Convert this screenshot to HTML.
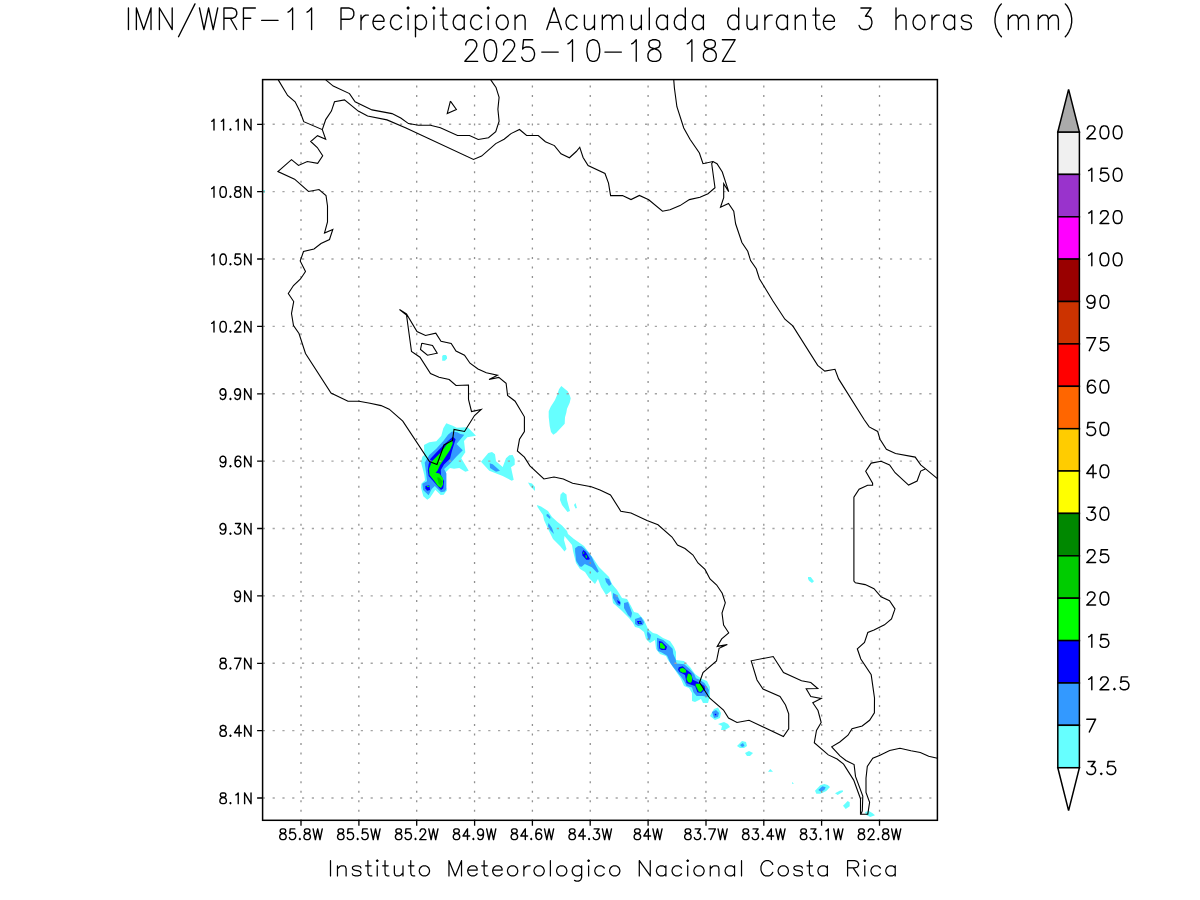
<!DOCTYPE html>
<html><head><meta charset="utf-8"><style>
html,body{margin:0;padding:0;background:#fff;width:1200px;height:900px;overflow:hidden}
svg{display:block}
body{font-family:"Liberation Sans",sans-serif}
</style></head><body>
<svg width="1200" height="900" viewBox="0 0 1200 900">
<polygon points="446.3,423.3 452.7,425.7 456.7,427.7 466,427.3 468.7,428.3 476,435.7 467.3,437.3 464,441 465.3,452.3 461.3,458.3 468.7,470.7 465.3,471.7 459.3,468 454,468.7 450,468 446,472 446,487.7 447,490.3 443.7,494.7 440.7,495 435.3,489.7 430,497.7 427.3,499.7 423.3,496.3 421,487.7 421.3,483.7 425,480.3 424.3,475 421,462.3 422.3,456.7 424.3,455 424,445 429.3,442.3 436.3,441.3 441.3,435.7 443.3,428.3" fill="#66ffff"/>
<polygon points="481,461.7 488.3,453 492,452 495,454.3 496,461.3 502.7,467 506,458.3 509.3,455.3 512.7,455 514.7,459.3 514.7,464.7 511,467.3 512,472 513.7,479.7 511.7,480.7 502.7,476 489.3,470.7" fill="#66ffff"/>
<polygon points="489.7,463.3 492.7,464.3 500,470.7 496,471.7 490,468" fill="#3399ff"/>
<polygon points="442.2,356.1 443.3,355 445.8,355 447,356.4 447,358.6 445,360.8 442.2,360.8" fill="#66ffff"/>
<polygon points="561.3,386 567.7,391.3 569.7,395.3 570.7,398.3 569.7,402.7 567,408.7 566.3,412.7 565,417.3 564.7,423.7 556.3,432.7 553.3,434.7 551,432 549.7,426 548.7,417 548.7,411.3 550.7,406.7 555,400 557,395.3 559,389.3" fill="#66ffff"/>
<polygon points="528,482.5 532,483.5 535,487 535,491 530,486" fill="#66ffff"/>
<polygon points="563,492 566.5,494.5 567,500 570,511 567.5,512 562,505 560,500 560.5,494.5" fill="#66ffff"/>
<polygon points="575.5,503 577,508 575.5,508.5 574,505" fill="#66ffff"/>
<polygon points="537,505 541,506.5 548,511 552,517 557.5,522 562,525.5 567,531 568,534 574,539 584,546 593,558 599,567 605,573 609,577 612,584 617,590 622,598 627,599 631,606 634,612 638,613 644,620 648,629 653,633 657,634 663,638 670,641 674,647 676,652 676,660 684,661 687,664 690,667 695,674 702,679 707,681 710,687 710,696 708,703 703,703 701,699 695,702 692,701 692,693 689,688 684,686 681,679 673,667 668,660 666,656 660,654 656,649 655,640 650,643 646,639 644,632 639,628 635,627 633,623 629,618 621,610 613,603 611,591 606,595 601,587 598,579 595,584 589,578 585,572 580,569 576,563 573,551 572,545 564.5,536 564,540 566.5,549 564.5,551.5 560,546 553,539 549,531 544,520 543,515 537.5,507" fill="#66ffff"/>
<polygon points="546.5,514.5 548,514 550.5,517 550,519 546.5,516" fill="#3399ff"/>
<polygon points="548.5,523 552,528 554,534 550,530 548,526" fill="#3399ff"/>
<polygon points="605,578 609,579 611.5,584 609,586 606,582" fill="#3399ff"/>
<polygon points="613,593 617,595 621,603 620,606 617,605 613,598" fill="#3399ff"/>
<polygon points="624,603 628,602 632,613 631,618 628,615 624,608" fill="#3399ff"/>
<polygon points="635,619 641,617 644,622 643,625 638,626 635,624" fill="#3399ff"/>
<polygon points="647.5,631 651,635 650,640 648,639 647,634" fill="#3399ff"/>
<polygon points="617,600 620,602 620,604 618,603" fill="#0000ff"/>
<polygon points="637,621 641,621 642,624 638,624" fill="#0000ff"/>
<polygon points="639,622 640.5,622 640.5,623.3 639,623.3" fill="#00ff00"/>
<polygon points="451.9,431.6 457.3,432.3 460.4,433.9 464.3,434.7 456.5,444 462.8,450.2 456.5,456.4 449.5,464.2 444.1,468.9 446.4,473.5 446.4,489.1 444.9,491.4 441,492.2 434.8,486 431.7,489.1 428.6,495.3 423.1,489.9 422.3,483.7 427,481.3 426.2,473.5 424.7,462.7 429.3,454.9 436.3,448.7 443.3,440.9 448,434.7" fill="#3399ff"/>
<polygon points="452.8,436.8 455.6,439.2 452,450.8 450,458.8 444,464.4 440.8,470 441,475.1 444.1,481.3 443.3,488.3 441,489.9 434.8,482.9 428.6,475.9 427.8,470.4 428.6,464.2 430.4,458.8 438,450.8 446,442.8" fill="#0000ff"/>
<polygon points="425.4,486 429.3,485.2 430.1,489.9 427,490.7 425.4,488.3" fill="#0000ff"/>
<polygon points="452,440 452.8,443.2 450,450 445.6,456.8 440,465.2 437.6,470.4 435.6,472.8 439.4,473.5 443,478.2 443,484.4 441,488 437.9,486 434,480.5 429.6,475.1 429,468.9 432,461.2 441.2,452 448.8,441.6" fill="#00ff00"/>
<polygon points="437.1,477.4 439.4,477.4 442.6,481.3 441,486 438.7,483.7" fill="#00cc00"/>
<polygon points="427,486 429,486 429,486.9 427,486.9" fill="#00ff00"/>
<polygon points="575.1,548.2 578.2,546 581.7,546.2 584,548.2 588.7,552.8 591.8,557.1 594.1,562.2 598.8,571.5 597.2,572.7 591.8,567.2 584.8,564.1 581.7,566.8 579.7,566.5 576.2,561 575.1,551.7" fill="#3399ff"/>
<polygon points="583.2,550.1 585.6,551.7 589.8,558.7 589.1,559.8 586.3,559.8 582.5,555.6 582.1,552.5" fill="#0000ff"/>
<polygon points="583.2,552.1 584.1,552.1 584.1,553.7 583.2,553.7" fill="#00ff00"/>
<polygon points="585.2,555.2 586.6,555.2 587.1,557.9 586,557.9" fill="#00ff00"/>
<polygon points="657,637.8 663.2,640.1 667.9,644 672.6,648.7 673.3,654.1 675.7,659.5 676.4,663.4 684.2,664.2 689.7,668.9 694.3,674.3 695.9,678.2 699.8,679.8 704.4,682.9 707.5,687.5 709,690 708,697 702.9,696.1 696.7,696.1 693.5,692.2 692,687.5 686.5,686 684.2,681.3 681.1,676.7 673.3,667.3 670.2,662.7 667.1,655.7 661.7,652.6 657.8,651 657,645.6" fill="#3399ff"/>
<polygon points="658.9,641 662,641.8 667,646.8 666,650 661.5,650 659.3,648.5" fill="#0000ff"/>
<polygon points="659.8,643 661.8,642.8 665.3,647 664.3,649 660.2,648.3" fill="#00ff00"/>
<polygon points="678.8,667.3 682.7,666.2 686.5,669.7 691.2,673.2 692.8,679.8 699.8,682.9 704.4,686 705.2,689.1 701.3,693 697.4,692.2 695.1,686 690.4,684.4 686.5,682.9 685,675.1 679.5,672 678,669.7" fill="#0000ff"/>
<polygon points="679.5,668.9 682.7,667.7 685.8,669.7 686.2,672.4 682.7,672.8 680,671.2" fill="#00ff00"/>
<polygon points="688.1,673.5 690.4,674.3 692,676.7 692,681.3 690.4,682.9 688.1,682.1 686.5,679 687.3,675.9" fill="#00ff00"/>
<polygon points="695.9,683.7 699.8,683.7 702.9,686.8 702.9,689.9 700.5,692.2 698.6,691.4 696.7,687.5 695.5,685.2" fill="#00ff00"/>
<polygon points="710,716 714,709 718,707.5 721,713 720,718 715,720" fill="#66ffff"/>
<polygon points="712,712 716,710 719,713 718,717 714,718" fill="#3399ff"/>
<polygon points="714.8,713.8 716.3,713.8 716.3,715.3 714.8,715.3" fill="#0000ff"/>
<polygon points="718,724 724,722 728,724 730,727 725,730 721,730 722,726" fill="#66ffff"/>
<polygon points="737,746 742,741 746,742 747,746 744,748 740,748" fill="#66ffff"/>
<polygon points="740,745 743,743 744.5,746 742,747" fill="#3399ff"/>
<polygon points="745,753 749,751 753,753 750,756 747,756" fill="#66ffff"/>
<polygon points="768,771.7 770.3,769 773,771.7" fill="#66ffff"/>
<polygon points="792,782 794,783.7 792,783.7" fill="#66ffff"/>
<polygon points="815,790.7 820.3,785.3 824.3,784 827.7,785 830,787 826.3,791 820.3,793.7 816.3,793.7" fill="#66ffff"/>
<polygon points="818.3,790 822.3,786.3 825.7,787.3 824.3,790 821,791.7" fill="#3399ff"/>
<polygon points="835,793.3 839.7,790.7 842.7,790.3 843,791.7 839.7,793.7 837.7,795" fill="#66ffff"/>
<polygon points="843,805.7 847.7,801 849.7,802.3 849.7,806.3 845.7,809" fill="#66ffff"/>
<polygon points="865,812 869,811 872.3,813 875,815.3 870.3,817 866.3,815" fill="#66ffff"/>
<polygon points="808,577 810.7,577 814,581.3 812,583 809,580.7 808,578.7" fill="#66ffff"/>
<rect x="263.4" y="190" width="1.5" height="3" fill="#66ffff"/>
<path d="M262.8 124.30H937.4M262.8 191.67H937.4M262.8 259.04H937.4M262.8 326.41H937.4M262.8 393.78H937.4M262.8 461.15H937.4M262.8 528.52H937.4M262.8 595.89H937.4M262.8 663.26H937.4M262.8 730.63H937.4M262.8 798.00H937.4" stroke="#a4a4a4" stroke-width="1.4" stroke-dasharray="2.2 7.6" fill="none"/>
<path d="M301.00 821.3V79.6M358.85 821.3V79.6M416.70 821.3V79.6M474.55 821.3V79.6M532.40 821.3V79.6M590.25 821.3V79.6M648.10 821.3V79.6M705.95 821.3V79.6M763.80 821.3V79.6M821.65 821.3V79.6M879.50 821.3V79.6" stroke="#909090" stroke-width="1.3" stroke-dasharray="2 7.53" fill="none"/>
<polyline points="278.25,79.9 287.6,95.5 295.1,101.75 300.1,111.75 303.75,121.7 322.3,129.6 325.7,139.3 317.5,135.7 310.7,141.5 317.3,147.5 322.7,155.7 317.7,163.3 307.3,161.5 298.5,165.4 291.5,159.6 277.9,171.5 294.6,179.2 308.5,191.5 319,189.5 326,195.5 327.5,206 327.5,222 324.5,233 332.8,229.5 329.5,239.5 321,243.5 314,249 303.5,251.5 300.2,261 305.5,271.5 300.5,279 293.5,285.5 288.3,293.5 293.7,301.5 291.5,313.5 293.5,325.5 299,333.5 305.5,353.5 331,393 348,401.2 359,401.2 370,403.2 381.1,405.6 389.2,409.2 402.8,421.1 429.5,461.5 437,464.5 444,445 452.5,440.5 454,429.5 464.5,431.5 474.5,415.5 481.2,409.5 471.5,411.5 468.5,399.5 468.5,385 456,385.5 449.2,379.5 439,377.2 430.5,373.5 420,357.2 411.5,351.5 406.5,315 399.5,309.5 406.5,314 417,331.5 425.5,335.5 435.8,333.2 441,341.2 451.2,343.5 456,351 464.5,355.2 470,363.2 478,369 486.3,372.8 497.5,375.2 489,379.5 498.8,377.4 506.1,383.3 507.6,395.5 515.1,401.2 524.4,416.8 524.4,431.5 519.5,439.3 517.4,451 524.4,457.2 529.9,465.8 543.9,479 554,477 563.3,479 572.6,483.2 591.3,486.7 600,490 610.5,495 620.8,511.2 631,513 647,520.5 658,524.8 672,537 677.5,545 685,548.5 693,555 698,563 705,569.4 710,578.9 716.7,585 722.2,593.3 725.3,602.8 722,613.1 723.6,625 728.7,632.8 721.7,638.9 717.2,646.4 727.3,644.6 719.1,648.3 716.5,661 703,672.5 699.5,682.5 709.5,698 723.5,710 728.5,718 737,722.5 749,720.2 783.4,736.5 788.7,728.9 788.7,713.8 785.5,705 780,696.5 763,689 757,680 751.2,660.8 773.2,656.5 783.5,672.5 801.5,680.8 810.8,682.5 817.8,688.5 806.2,688.8 810.8,696.5 821.2,698.5 812.8,702.8 818,710.5 821.2,722.5 816.5,730.5 814.3,742.7 828.3,754.9 837.1,759 843.6,764.1 853.7,780.1 860.5,798.7 860.5,814.2 867.8,814.2 869.6,802.4 866,792.4 866,778.3 867.3,766.4 872.8,758.2 880,755.3 889.7,750.5 900,748.3 911,750.8 920.3,752.5 928.7,756.3 937.4,758.3" fill="none" stroke="#000" stroke-width="1.1" stroke-linejoin="miter"/>
<polyline points="322.3,129.6 325.7,119.6 331.4,111.1 334.5,101.75 344.5,99.9 358.25,111.1 367.6,116.1 387,119.9 406,128 473.5,159.5 481.6,156.1 495.75,143.6 504.1,139.25 511,133.6 519.5,129.5 526.6,135.5 538.25,135.5 545.4,141.75 554.4,145.6 561,153.75 569.4,157.75 576.25,151.5 579.75,147.25 583.1,157.5 588.1,165.6 605,173.5 608.5,183.1 610.6,195.6 622.5,195.6 631,199.6 639.4,195.4 648.75,199.75 662.5,211.25 670,209.75 680,205.6 689.4,199.6 700,197.3 708,193.7 715,187.7 711.7,163.7 713,161.5" fill="none" stroke="#000" stroke-width="1.1" stroke-linejoin="miter"/>
<polyline points="325.75,79.9 333.25,86.1 349.5,93.6 355.1,101.75 372,109.9 392,113.6 400.75,118 408.5,123.6 418.5,125.25 430.4,125.25 440.4,127.75 457.5,135.5 469.5,135.5 478.25,139.5 488.5,137.75 495.75,131.75 499.1,121.1 497.9,109.25 499.1,97.4 496,87.4 490.75,79.9" fill="none" stroke="#000" stroke-width="1.1" stroke-linejoin="miter"/>
<polyline points="450.4,101.1 456.4,109.5 447.25,113.6 450.4,101.1" fill="none" stroke="#000" stroke-width="1.1" stroke-linejoin="miter"/>
<polyline points="673.75,79.9 674.4,88 676.9,106.75 683.75,128 690,139.25 699.4,153 703,163.7 713,161.5 717,163.7 722.3,172 728.7,191.7 723.7,183.7 723.7,197.7 720.5,207.3 728.5,203.4 733.75,211.25 735.6,223.75 741.9,242.5 747.75,251.25 750.6,260.6 756.25,268.75 759.4,278.75 772.8,300.7 784.9,319.2 792.8,325.9 817.7,365.4 824.8,371.1 835,369.3 838.6,378.9 864.4,420 869.2,426.9 877.7,431.5 880,439.2 886.4,449.3 895.5,453.5 915.2,457.1 920.7,464.9 925.3,468.6 937.4,478.7" fill="none" stroke="#000" stroke-width="1.1" stroke-linejoin="miter"/>
<polyline points="925.3,469 920.7,471.1 917.1,481 908.6,485.1 895.1,472.7 889.6,464.9 881.1,461.2 871.2,463.1 865.7,471.3 872.6,483.1 872.6,485.3 867.6,485.3 859.1,489.2 853.9,497.1 853.9,581 855.4,582.8 865.2,584.6 874,588.7 881,596.8 889.5,600.7 895,608.9 891.5,619 884.5,624.8 874,630 867.8,632.5 864.5,642.5 857.3,648.8 860.8,659 871.2,674.8 874.5,698 874.4,712.9 869.6,720.3 862.2,726 852,728.7 848,735.2 839.8,742 831.7,746.8 840,755.9 845.9,760.5 854.1,764.6 855.5,776.4 862.8,796 862.3,811 861,814" fill="none" stroke="#000" stroke-width="1.1" stroke-linejoin="miter"/>
<polyline points="421.8,343.2 432.5,345.5 437.2,353.2 427.5,355.2 420.5,349.5 421.8,343.2" fill="none" stroke="#000" stroke-width="1.1" stroke-linejoin="miter"/>
<rect x="262.6" y="79.6" width="674.8" height="740.7" fill="none" stroke="#000" stroke-width="1.5"/>
<path d="M301.0 820.3V825.8M262.6 124.3H257.1M358.9 820.3V825.8M262.6 191.7H257.1M416.7 820.3V825.8M262.6 259.0H257.1M474.6 820.3V825.8M262.6 326.4H257.1M532.4 820.3V825.8M262.6 393.8H257.1M590.2 820.3V825.8M262.6 461.2H257.1M648.1 820.3V825.8M262.6 528.5H257.1M706.0 820.3V825.8M262.6 595.9H257.1M763.8 820.3V825.8M262.6 663.3H257.1M821.6 820.3V825.8M262.6 730.6H257.1M879.5 820.3V825.8M262.6 798.0H257.1" stroke="#000" stroke-width="1.3" fill="none"/>
<path d="M211.71 121.28 212.63 120.77 214.00 119.24 214.00 129.95M221.31 121.28 222.22 120.77 223.59 119.24 223.59 129.95M230.45 128.93 229.99 129.44 230.45 129.95 230.91 129.44 230.45 128.93M235.93 121.28 236.85 120.77 238.22 119.24 238.22 129.95M244.62 119.24 244.62 129.95M244.62 119.24 251.02 129.95M251.02 119.24 251.02 129.95M211.71 188.65 212.63 188.14 214.00 186.61 214.00 197.32M222.68 186.61 221.31 187.12 220.40 188.65 219.94 191.20 219.94 192.73 220.40 195.28 221.31 196.81 222.68 197.32 223.59 197.32 224.97 196.81 225.88 195.28 226.34 192.73 226.34 191.20 225.88 188.65 224.97 187.12 223.59 186.61 222.68 186.61M230.45 196.30 229.99 196.81 230.45 197.32 230.91 196.81 230.45 196.30M236.85 186.61 235.48 187.12 235.02 188.14 235.02 189.16 235.48 190.18 236.39 190.69 238.22 191.20 239.59 191.71 240.50 192.73 240.96 193.75 240.96 195.28 240.50 196.30 240.05 196.81 238.68 197.32 236.85 197.32 235.48 196.81 235.02 196.30 234.56 195.28 234.56 193.75 235.02 192.73 235.93 191.71 237.31 191.20 239.13 190.69 240.05 190.18 240.50 189.16 240.50 188.14 240.05 187.12 238.68 186.61 236.85 186.61M244.62 186.61 244.62 197.32M244.62 186.61 251.02 197.32M251.02 186.61 251.02 197.32M211.71 256.02 212.63 255.51 214.00 253.98 214.00 264.69M222.68 253.98 221.31 254.49 220.40 256.02 219.94 258.57 219.94 260.10 220.40 262.65 221.31 264.18 222.68 264.69 223.59 264.69 224.97 264.18 225.88 262.65 226.34 260.10 226.34 258.57 225.88 256.02 224.97 254.49 223.59 253.98 222.68 253.98M230.45 263.67 229.99 264.18 230.45 264.69 230.91 264.18 230.45 263.67M240.05 253.98 235.48 253.98 235.02 258.57 235.48 258.06 236.85 257.55 238.22 257.55 239.59 258.06 240.50 259.08 240.96 260.61 240.96 261.63 240.50 263.16 239.59 264.18 238.22 264.69 236.85 264.69 235.48 264.18 235.02 263.67 234.56 262.65M244.62 253.98 244.62 264.69M244.62 253.98 251.02 264.69M251.02 253.98 251.02 264.69M211.71 323.39 212.63 322.88 214.00 321.35 214.00 332.06M222.68 321.35 221.31 321.86 220.40 323.39 219.94 325.94 219.94 327.47 220.40 330.02 221.31 331.55 222.68 332.06 223.59 332.06 224.97 331.55 225.88 330.02 226.34 327.47 226.34 325.94 225.88 323.39 224.97 321.86 223.59 321.35 222.68 321.35M230.45 331.04 229.99 331.55 230.45 332.06 230.91 331.55 230.45 331.04M235.02 323.90 235.02 323.39 235.48 322.37 235.93 321.86 236.85 321.35 238.68 321.35 239.59 321.86 240.05 322.37 240.50 323.39 240.50 324.41 240.05 325.43 239.13 326.96 234.56 332.06 240.96 332.06M244.62 321.35 244.62 332.06M244.62 321.35 251.02 332.06M251.02 321.35 251.02 332.06M225.88 392.29 225.42 393.82 224.51 394.84 223.14 395.35 222.68 395.35 221.31 394.84 220.40 393.82 219.94 392.29 219.94 391.78 220.40 390.25 221.31 389.23 222.68 388.72 223.14 388.72 224.51 389.23 225.42 390.25 225.88 392.29 225.88 394.84 225.42 397.39 224.51 398.92 223.14 399.43 222.22 399.43 220.85 398.92 220.40 397.90M230.45 398.41 229.99 398.92 230.45 399.43 230.91 398.92 230.45 398.41M240.50 392.29 240.05 393.82 239.13 394.84 237.76 395.35 237.31 395.35 235.93 394.84 235.02 393.82 234.56 392.29 234.56 391.78 235.02 390.25 235.93 389.23 237.31 388.72 237.76 388.72 239.13 389.23 240.05 390.25 240.50 392.29 240.50 394.84 240.05 397.39 239.13 398.92 237.76 399.43 236.85 399.43 235.48 398.92 235.02 397.90M244.62 388.72 244.62 399.43M244.62 388.72 251.02 399.43M251.02 388.72 251.02 399.43M225.88 459.66 225.42 461.19 224.51 462.21 223.14 462.72 222.68 462.72 221.31 462.21 220.40 461.19 219.94 459.66 219.94 459.15 220.40 457.62 221.31 456.60 222.68 456.09 223.14 456.09 224.51 456.60 225.42 457.62 225.88 459.66 225.88 462.21 225.42 464.76 224.51 466.29 223.14 466.80 222.22 466.80 220.85 466.29 220.40 465.27M230.45 465.78 229.99 466.29 230.45 466.80 230.91 466.29 230.45 465.78M240.50 457.62 240.05 456.60 238.68 456.09 237.76 456.09 236.39 456.60 235.48 458.13 235.02 460.68 235.02 463.23 235.48 465.27 236.39 466.29 237.76 466.80 238.22 466.80 239.59 466.29 240.50 465.27 240.96 463.74 240.96 463.23 240.50 461.70 239.59 460.68 238.22 460.17 237.76 460.17 236.39 460.68 235.48 461.70 235.02 463.23M244.62 456.09 244.62 466.80M244.62 456.09 251.02 466.80M251.02 456.09 251.02 466.80M225.88 527.03 225.42 528.56 224.51 529.58 223.14 530.09 222.68 530.09 221.31 529.58 220.40 528.56 219.94 527.03 219.94 526.52 220.40 524.99 221.31 523.97 222.68 523.46 223.14 523.46 224.51 523.97 225.42 524.99 225.88 527.03 225.88 529.58 225.42 532.13 224.51 533.66 223.14 534.17 222.22 534.17 220.85 533.66 220.40 532.64M230.45 533.15 229.99 533.66 230.45 534.17 230.91 533.66 230.45 533.15M235.48 523.46 240.50 523.46 237.76 527.54 239.13 527.54 240.05 528.05 240.50 528.56 240.96 530.09 240.96 531.11 240.50 532.64 239.59 533.66 238.22 534.17 236.85 534.17 235.48 533.66 235.02 533.15 234.56 532.13M244.62 523.46 244.62 534.17M244.62 523.46 251.02 534.17M251.02 523.46 251.02 534.17M240.50 594.40 240.05 595.93 239.13 596.95 237.76 597.46 237.31 597.46 235.93 596.95 235.02 595.93 234.56 594.40 234.56 593.89 235.02 592.36 235.93 591.34 237.31 590.83 237.76 590.83 239.13 591.34 240.05 592.36 240.50 594.40 240.50 596.95 240.05 599.50 239.13 601.03 237.76 601.54 236.85 601.54 235.48 601.03 235.02 600.01M244.62 590.83 244.62 601.54M244.62 590.83 251.02 601.54M251.02 590.83 251.02 601.54M222.22 658.20 220.85 658.71 220.40 659.73 220.40 660.75 220.85 661.77 221.77 662.28 223.59 662.79 224.97 663.30 225.88 664.32 226.34 665.34 226.34 666.87 225.88 667.89 225.42 668.40 224.05 668.91 222.22 668.91 220.85 668.40 220.40 667.89 219.94 666.87 219.94 665.34 220.40 664.32 221.31 663.30 222.68 662.79 224.51 662.28 225.42 661.77 225.88 660.75 225.88 659.73 225.42 658.71 224.05 658.20 222.22 658.20M230.45 667.89 229.99 668.40 230.45 668.91 230.91 668.40 230.45 667.89M240.96 658.20 236.39 668.91M234.56 658.20 240.96 658.20M244.62 658.20 244.62 668.91M244.62 658.20 251.02 668.91M251.02 658.20 251.02 668.91M222.22 725.57 220.85 726.08 220.40 727.10 220.40 728.12 220.85 729.14 221.77 729.65 223.59 730.16 224.97 730.67 225.88 731.69 226.34 732.71 226.34 734.24 225.88 735.26 225.42 735.77 224.05 736.28 222.22 736.28 220.85 735.77 220.40 735.26 219.94 734.24 219.94 732.71 220.40 731.69 221.31 730.67 222.68 730.16 224.51 729.65 225.42 729.14 225.88 728.12 225.88 727.10 225.42 726.08 224.05 725.57 222.22 725.57M230.45 735.26 229.99 735.77 230.45 736.28 230.91 735.77 230.45 735.26M239.13 725.57 234.56 732.71 241.42 732.71M239.13 725.57 239.13 736.28M244.62 725.57 244.62 736.28M244.62 725.57 251.02 736.28M251.02 725.57 251.02 736.28M222.22 792.94 220.85 793.45 220.40 794.47 220.40 795.49 220.85 796.51 221.77 797.02 223.59 797.53 224.97 798.04 225.88 799.06 226.34 800.08 226.34 801.61 225.88 802.63 225.42 803.14 224.05 803.65 222.22 803.65 220.85 803.14 220.40 802.63 219.94 801.61 219.94 800.08 220.40 799.06 221.31 798.04 222.68 797.53 224.51 797.02 225.42 796.51 225.88 795.49 225.88 794.47 225.42 793.45 224.05 792.94 222.22 792.94M230.45 802.63 229.99 803.14 230.45 803.65 230.91 803.14 230.45 802.63M235.93 794.98 236.85 794.47 238.22 792.94 238.22 803.65M244.62 792.94 244.62 803.65M244.62 792.94 251.02 803.65M251.02 792.94 251.02 803.65M282.03 828.89 280.66 829.40 280.21 830.42 280.21 831.44 280.66 832.46 281.58 832.97 283.41 833.48 284.78 833.99 285.69 835.01 286.15 836.03 286.15 837.56 285.69 838.58 285.23 839.09 283.86 839.60 282.03 839.60 280.66 839.09 280.21 838.58 279.75 837.56 279.75 836.03 280.21 835.01 281.12 833.99 282.49 833.48 284.32 832.97 285.23 832.46 285.69 831.44 285.69 830.42 285.23 829.40 283.86 828.89 282.03 828.89M294.83 828.89 290.26 828.89 289.80 833.48 290.26 832.97 291.63 832.46 293.00 832.46 294.37 832.97 295.29 833.99 295.74 835.52 295.74 836.54 295.29 838.07 294.37 839.09 293.00 839.60 291.63 839.60 290.26 839.09 289.80 838.58 289.35 837.56M299.86 838.58 299.40 839.09 299.86 839.60 300.31 839.09 299.86 838.58M306.26 828.89 304.88 829.40 304.43 830.42 304.43 831.44 304.88 832.46 305.80 832.97 307.63 833.48 309.00 833.99 309.91 835.01 310.37 836.03 310.37 837.56 309.91 838.58 309.45 839.09 308.08 839.60 306.26 839.60 304.88 839.09 304.43 838.58 303.97 837.56 303.97 836.03 304.43 835.01 305.34 833.99 306.71 833.48 308.54 832.97 309.45 832.46 309.91 831.44 309.91 830.42 309.45 829.40 308.08 828.89 306.26 828.89M313.11 828.89 315.40 839.60M317.68 828.89 315.40 839.60M317.68 828.89 319.97 839.60M322.25 828.89 319.97 839.60M339.88 828.89 338.51 829.40 338.06 830.42 338.06 831.44 338.51 832.46 339.43 832.97 341.26 833.48 342.63 833.99 343.54 835.01 344.00 836.03 344.00 837.56 343.54 838.58 343.08 839.09 341.71 839.60 339.88 839.60 338.51 839.09 338.06 838.58 337.60 837.56 337.60 836.03 338.06 835.01 338.97 833.99 340.34 833.48 342.17 832.97 343.08 832.46 343.54 831.44 343.54 830.42 343.08 829.40 341.71 828.89 339.88 828.89M352.68 828.89 348.11 828.89 347.65 833.48 348.11 832.97 349.48 832.46 350.85 832.46 352.22 832.97 353.14 833.99 353.59 835.52 353.59 836.54 353.14 838.07 352.22 839.09 350.85 839.60 349.48 839.60 348.11 839.09 347.65 838.58 347.20 837.56M357.71 838.58 357.25 839.09 357.71 839.60 358.16 839.09 357.71 838.58M367.30 828.89 362.73 828.89 362.28 833.48 362.73 832.97 364.11 832.46 365.48 832.46 366.85 832.97 367.76 833.99 368.22 835.52 368.22 836.54 367.76 838.07 366.85 839.09 365.48 839.60 364.11 839.60 362.73 839.09 362.28 838.58 361.82 837.56M370.96 828.89 373.25 839.60M375.53 828.89 373.25 839.60M375.53 828.89 377.82 839.60M380.10 828.89 377.82 839.60M397.73 828.89 396.36 829.40 395.91 830.42 395.91 831.44 396.36 832.46 397.28 832.97 399.11 833.48 400.48 833.99 401.39 835.01 401.85 836.03 401.85 837.56 401.39 838.58 400.93 839.09 399.56 839.60 397.73 839.60 396.36 839.09 395.91 838.58 395.45 837.56 395.45 836.03 395.91 835.01 396.82 833.99 398.19 833.48 400.02 832.97 400.93 832.46 401.39 831.44 401.39 830.42 400.93 829.40 399.56 828.89 397.73 828.89M410.53 828.89 405.96 828.89 405.50 833.48 405.96 832.97 407.33 832.46 408.70 832.46 410.07 832.97 410.99 833.99 411.44 835.52 411.44 836.54 410.99 838.07 410.07 839.09 408.70 839.60 407.33 839.60 405.96 839.09 405.50 838.58 405.05 837.56M415.56 838.58 415.10 839.09 415.56 839.60 416.01 839.09 415.56 838.58M420.13 831.44 420.13 830.93 420.58 829.91 421.04 829.40 421.96 828.89 423.78 828.89 424.70 829.40 425.15 829.91 425.61 830.93 425.61 831.95 425.15 832.97 424.24 834.50 419.67 839.60 426.07 839.60M428.81 828.89 431.10 839.60M433.38 828.89 431.10 839.60M433.38 828.89 435.67 839.60M437.95 828.89 435.67 839.60M455.58 828.89 454.21 829.40 453.76 830.42 453.76 831.44 454.21 832.46 455.13 832.97 456.96 833.48 458.33 833.99 459.24 835.01 459.70 836.03 459.70 837.56 459.24 838.58 458.78 839.09 457.41 839.60 455.58 839.60 454.21 839.09 453.76 838.58 453.30 837.56 453.30 836.03 453.76 835.01 454.67 833.99 456.04 833.48 457.87 832.97 458.78 832.46 459.24 831.44 459.24 830.42 458.78 829.40 457.41 828.89 455.58 828.89M467.47 828.89 462.90 836.03 469.75 836.03M467.47 828.89 467.47 839.60M473.41 838.58 472.95 839.09 473.41 839.60 473.86 839.09 473.41 838.58M483.46 832.46 483.00 833.99 482.09 835.01 480.72 835.52 480.26 835.52 478.89 835.01 477.98 833.99 477.52 832.46 477.52 831.95 477.98 830.42 478.89 829.40 480.26 828.89 480.72 828.89 482.09 829.40 483.00 830.42 483.46 832.46 483.46 835.01 483.00 837.56 482.09 839.09 480.72 839.60 479.81 839.60 478.43 839.09 477.98 838.07M486.66 828.89 488.95 839.60M491.23 828.89 488.95 839.60M491.23 828.89 493.52 839.60M495.80 828.89 493.52 839.60M513.43 828.89 512.06 829.40 511.61 830.42 511.61 831.44 512.06 832.46 512.98 832.97 514.81 833.48 516.18 833.99 517.09 835.01 517.55 836.03 517.55 837.56 517.09 838.58 516.63 839.09 515.26 839.60 513.43 839.60 512.06 839.09 511.61 838.58 511.15 837.56 511.15 836.03 511.61 835.01 512.52 833.99 513.89 833.48 515.72 832.97 516.63 832.46 517.09 831.44 517.09 830.42 516.63 829.40 515.26 828.89 513.43 828.89M525.32 828.89 520.75 836.03 527.60 836.03M525.32 828.89 525.32 839.60M531.26 838.58 530.80 839.09 531.26 839.60 531.71 839.09 531.26 838.58M541.31 830.42 540.85 829.40 539.48 828.89 538.57 828.89 537.20 829.40 536.28 830.93 535.83 833.48 535.83 836.03 536.28 838.07 537.20 839.09 538.57 839.60 539.03 839.60 540.40 839.09 541.31 838.07 541.77 836.54 541.77 836.03 541.31 834.50 540.40 833.48 539.03 832.97 538.57 832.97 537.20 833.48 536.28 834.50 535.83 836.03M544.51 828.89 546.80 839.60M549.08 828.89 546.80 839.60M549.08 828.89 551.37 839.60M553.65 828.89 551.37 839.60M571.28 828.89 569.91 829.40 569.46 830.42 569.46 831.44 569.91 832.46 570.83 832.97 572.66 833.48 574.03 833.99 574.94 835.01 575.40 836.03 575.40 837.56 574.94 838.58 574.48 839.09 573.11 839.60 571.28 839.60 569.91 839.09 569.46 838.58 569.00 837.56 569.00 836.03 569.46 835.01 570.37 833.99 571.74 833.48 573.57 832.97 574.48 832.46 574.94 831.44 574.94 830.42 574.48 829.40 573.11 828.89 571.28 828.89M583.17 828.89 578.60 836.03 585.45 836.03M583.17 828.89 583.17 839.60M589.11 838.58 588.65 839.09 589.11 839.60 589.56 839.09 589.11 838.58M594.13 828.89 599.16 828.89 596.42 832.97 597.79 832.97 598.70 833.48 599.16 833.99 599.62 835.52 599.62 836.54 599.16 838.07 598.25 839.09 596.88 839.60 595.51 839.60 594.13 839.09 593.68 838.58 593.22 837.56M602.36 828.89 604.65 839.60M606.93 828.89 604.65 839.60M606.93 828.89 609.22 839.60M611.50 828.89 609.22 839.60M636.45 828.89 635.08 829.40 634.62 830.42 634.62 831.44 635.08 832.46 635.99 832.97 637.82 833.48 639.19 833.99 640.10 835.01 640.56 836.03 640.56 837.56 640.10 838.58 639.65 839.09 638.27 839.60 636.45 839.60 635.08 839.09 634.62 838.58 634.16 837.56 634.16 836.03 634.62 835.01 635.53 833.99 636.90 833.48 638.73 832.97 639.65 832.46 640.10 831.44 640.10 830.42 639.65 829.40 638.27 828.89 636.45 828.89M648.33 828.89 643.76 836.03 650.61 836.03M648.33 828.89 648.33 839.60M652.90 828.89 655.18 839.60M657.47 828.89 655.18 839.60M657.47 828.89 659.75 839.60M662.04 828.89 659.75 839.60M686.98 828.89 685.61 829.40 685.16 830.42 685.16 831.44 685.61 832.46 686.53 832.97 688.36 833.48 689.73 833.99 690.64 835.01 691.10 836.03 691.10 837.56 690.64 838.58 690.18 839.09 688.81 839.60 686.98 839.60 685.61 839.09 685.16 838.58 684.70 837.56 684.70 836.03 685.16 835.01 686.07 833.99 687.44 833.48 689.27 832.97 690.18 832.46 690.64 831.44 690.64 830.42 690.18 829.40 688.81 828.89 686.98 828.89M695.21 828.89 700.24 828.89 697.50 832.97 698.87 832.97 699.78 833.48 700.24 833.99 700.69 835.52 700.69 836.54 700.24 838.07 699.32 839.09 697.95 839.60 696.58 839.60 695.21 839.09 694.75 838.58 694.30 837.56M704.81 838.58 704.35 839.09 704.81 839.60 705.26 839.09 704.81 838.58M715.32 828.89 710.75 839.60M708.92 828.89 715.32 828.89M718.06 828.89 720.35 839.60M722.63 828.89 720.35 839.60M722.63 828.89 724.92 839.60M727.20 828.89 724.92 839.60M744.83 828.89 743.46 829.40 743.01 830.42 743.01 831.44 743.46 832.46 744.38 832.97 746.21 833.48 747.58 833.99 748.49 835.01 748.95 836.03 748.95 837.56 748.49 838.58 748.03 839.09 746.66 839.60 744.83 839.60 743.46 839.09 743.01 838.58 742.55 837.56 742.55 836.03 743.01 835.01 743.92 833.99 745.29 833.48 747.12 832.97 748.03 832.46 748.49 831.44 748.49 830.42 748.03 829.40 746.66 828.89 744.83 828.89M753.06 828.89 758.09 828.89 755.35 832.97 756.72 832.97 757.63 833.48 758.09 833.99 758.54 835.52 758.54 836.54 758.09 838.07 757.17 839.09 755.80 839.60 754.43 839.60 753.06 839.09 752.60 838.58 752.15 837.56M762.66 838.58 762.20 839.09 762.66 839.60 763.11 839.09 762.66 838.58M771.34 828.89 766.77 836.03 773.63 836.03M771.34 828.89 771.34 839.60M775.91 828.89 778.20 839.60M780.48 828.89 778.20 839.60M780.48 828.89 782.77 839.60M785.05 828.89 782.77 839.60M802.68 828.89 801.31 829.40 800.86 830.42 800.86 831.44 801.31 832.46 802.23 832.97 804.06 833.48 805.43 833.99 806.34 835.01 806.80 836.03 806.80 837.56 806.34 838.58 805.88 839.09 804.51 839.60 802.68 839.60 801.31 839.09 800.86 838.58 800.40 837.56 800.40 836.03 800.86 835.01 801.77 833.99 803.14 833.48 804.97 832.97 805.88 832.46 806.34 831.44 806.34 830.42 805.88 829.40 804.51 828.89 802.68 828.89M810.91 828.89 815.94 828.89 813.20 832.97 814.57 832.97 815.48 833.48 815.94 833.99 816.39 835.52 816.39 836.54 815.94 838.07 815.02 839.09 813.65 839.60 812.28 839.60 810.91 839.09 810.45 838.58 810.00 837.56M820.51 838.58 820.05 839.09 820.51 839.60 820.96 839.09 820.51 838.58M825.99 830.93 826.91 830.42 828.28 828.89 828.28 839.60M833.76 828.89 836.05 839.60M838.33 828.89 836.05 839.60M838.33 828.89 840.62 839.60M842.90 828.89 840.62 839.60M860.53 828.89 859.16 829.40 858.71 830.42 858.71 831.44 859.16 832.46 860.08 832.97 861.91 833.48 863.28 833.99 864.19 835.01 864.65 836.03 864.65 837.56 864.19 838.58 863.73 839.09 862.36 839.60 860.53 839.60 859.16 839.09 858.71 838.58 858.25 837.56 858.25 836.03 858.71 835.01 859.62 833.99 860.99 833.48 862.82 832.97 863.73 832.46 864.19 831.44 864.19 830.42 863.73 829.40 862.36 828.89 860.53 828.89M868.30 831.44 868.30 830.93 868.76 829.91 869.22 829.40 870.13 828.89 871.96 828.89 872.87 829.40 873.33 829.91 873.79 830.93 873.79 831.95 873.33 832.97 872.42 834.50 867.85 839.60 874.24 839.60M878.36 838.58 877.90 839.09 878.36 839.60 878.81 839.09 878.36 838.58M884.76 828.89 883.38 829.40 882.93 830.42 882.93 831.44 883.38 832.46 884.30 832.97 886.13 833.48 887.50 833.99 888.41 835.01 888.87 836.03 888.87 837.56 888.41 838.58 887.95 839.09 886.58 839.60 884.76 839.60 883.38 839.09 882.93 838.58 882.47 837.56 882.47 836.03 882.93 835.01 883.84 833.99 885.21 833.48 887.04 832.97 887.95 832.46 888.41 831.44 888.41 830.42 887.95 829.40 886.58 828.89 884.76 828.89M891.61 828.89 893.90 839.60M896.18 828.89 893.90 839.60M896.18 828.89 898.47 839.60M900.75 828.89 898.47 839.60" stroke="#000" stroke-width="1.4" fill="none" stroke-linecap="round" stroke-linejoin="round"/>
<rect x="1057.8" y="132.0" width="21.6" height="42.4" fill="#f0f0f0" stroke="#000" stroke-width="1.5"/>
<rect x="1057.8" y="174.4" width="21.6" height="42.4" fill="#9933cc" stroke="#000" stroke-width="1.5"/>
<rect x="1057.8" y="216.8" width="21.6" height="42.3" fill="#ff00ff" stroke="#000" stroke-width="1.5"/>
<rect x="1057.8" y="259.1" width="21.6" height="42.4" fill="#990000" stroke="#000" stroke-width="1.5"/>
<rect x="1057.8" y="301.5" width="21.6" height="42.4" fill="#cc3300" stroke="#000" stroke-width="1.5"/>
<rect x="1057.8" y="343.9" width="21.6" height="42.4" fill="#ff0000" stroke="#000" stroke-width="1.5"/>
<rect x="1057.8" y="386.3" width="21.6" height="42.4" fill="#ff6600" stroke="#000" stroke-width="1.5"/>
<rect x="1057.8" y="428.7" width="21.6" height="42.3" fill="#ffcc00" stroke="#000" stroke-width="1.5"/>
<rect x="1057.8" y="471.0" width="21.6" height="42.4" fill="#ffff00" stroke="#000" stroke-width="1.5"/>
<rect x="1057.8" y="513.4" width="21.6" height="42.4" fill="#008800" stroke="#000" stroke-width="1.5"/>
<rect x="1057.8" y="555.8" width="21.6" height="42.4" fill="#00cc00" stroke="#000" stroke-width="1.5"/>
<rect x="1057.8" y="598.2" width="21.6" height="42.4" fill="#00ff00" stroke="#000" stroke-width="1.5"/>
<rect x="1057.8" y="640.6" width="21.6" height="42.4" fill="#0000ff" stroke="#000" stroke-width="1.5"/>
<rect x="1057.8" y="683.0" width="21.6" height="42.3" fill="#3399ff" stroke="#000" stroke-width="1.5"/>
<rect x="1057.8" y="725.3" width="21.6" height="42.4" fill="#66ffff" stroke="#000" stroke-width="1.5"/>
<path d="M1057.8 132.0L1068.6 89.4L1079.4 132.0Z" fill="#aaaaaa" stroke="#000" stroke-width="1.5" stroke-linejoin="miter"/>
<path d="M1057.8 767.7L1068.6 810.6L1079.4 767.7Z" fill="#ffffff" stroke="#000" stroke-width="1.5"/>
<path d="M1087.42 128.93 1087.42 128.31 1088.05 127.08 1088.67 126.47 1089.93 125.86 1092.45 125.86 1093.71 126.47 1094.34 127.08 1094.96 128.31 1094.96 129.54 1094.34 130.77 1093.08 132.61 1086.79 138.75 1095.59 138.75M1103.77 125.86 1101.88 126.47 1100.63 128.31 1100.00 131.38 1100.00 133.22 1100.63 136.29 1101.88 138.14 1103.77 138.75 1105.03 138.75 1106.92 138.14 1108.17 136.29 1108.80 133.22 1108.80 131.38 1108.17 128.31 1106.92 126.47 1105.03 125.86 1103.77 125.86M1116.98 125.86 1115.09 126.47 1113.83 128.31 1113.21 131.38 1113.21 133.22 1113.83 136.29 1115.09 138.14 1116.98 138.75 1118.24 138.75 1120.12 138.14 1121.38 136.29 1122.01 133.22 1122.01 131.38 1121.38 128.31 1120.12 126.47 1118.24 125.86 1116.98 125.86M1088.67 170.71 1089.93 170.10 1091.82 168.26 1091.82 181.15M1107.54 168.26 1101.25 168.26 1100.63 173.78 1101.25 173.17 1103.14 172.55 1105.03 172.55 1106.92 173.17 1108.17 174.40 1108.80 176.24 1108.80 177.47 1108.17 179.31 1106.92 180.54 1105.03 181.15 1103.14 181.15 1101.25 180.54 1100.63 179.92 1100.00 178.69M1116.98 168.26 1115.09 168.87 1113.83 170.71 1113.21 173.78 1113.21 175.62 1113.83 178.69 1115.09 180.54 1116.98 181.15 1118.24 181.15 1120.12 180.54 1121.38 178.69 1122.01 175.62 1122.01 173.78 1121.38 170.71 1120.12 168.87 1118.24 168.26 1116.98 168.26M1088.67 213.11 1089.93 212.50 1091.82 210.66 1091.82 223.55M1100.63 213.73 1100.63 213.11 1101.25 211.88 1101.88 211.27 1103.14 210.66 1105.66 210.66 1106.92 211.27 1107.54 211.88 1108.17 213.11 1108.17 214.34 1107.54 215.57 1106.29 217.41 1100.00 223.55 1108.80 223.55M1116.98 210.66 1115.09 211.27 1113.83 213.11 1113.21 216.18 1113.21 218.02 1113.83 221.09 1115.09 222.94 1116.98 223.55 1118.24 223.55 1120.12 222.94 1121.38 221.09 1122.01 218.02 1122.01 216.18 1121.38 213.11 1120.12 211.27 1118.24 210.66 1116.98 210.66M1088.67 255.41 1089.93 254.80 1091.82 252.96 1091.82 265.85M1103.77 252.96 1101.88 253.57 1100.63 255.41 1100.00 258.48 1100.00 260.32 1100.63 263.39 1101.88 265.24 1103.77 265.85 1105.03 265.85 1106.92 265.24 1108.17 263.39 1108.80 260.32 1108.80 258.48 1108.17 255.41 1106.92 253.57 1105.03 252.96 1103.77 252.96M1116.98 252.96 1115.09 253.57 1113.83 255.41 1113.21 258.48 1113.21 260.32 1113.83 263.39 1115.09 265.24 1116.98 265.85 1118.24 265.85 1120.12 265.24 1121.38 263.39 1122.01 260.32 1122.01 258.48 1121.38 255.41 1120.12 253.57 1118.24 252.96 1116.98 252.96M1094.96 299.65 1094.34 301.50 1093.08 302.72 1091.19 303.34 1090.56 303.34 1088.67 302.72 1087.42 301.50 1086.79 299.65 1086.79 299.04 1087.42 297.20 1088.67 295.97 1090.56 295.36 1091.19 295.36 1093.08 295.97 1094.34 297.20 1094.96 299.65 1094.96 302.72 1094.34 305.79 1093.08 307.64 1091.19 308.25 1089.93 308.25 1088.05 307.64 1087.42 306.41M1103.77 295.36 1101.88 295.97 1100.63 297.81 1100.00 300.88 1100.00 302.72 1100.63 305.79 1101.88 307.64 1103.77 308.25 1105.03 308.25 1106.92 307.64 1108.17 305.79 1108.80 302.72 1108.80 300.88 1108.17 297.81 1106.92 295.97 1105.03 295.36 1103.77 295.36M1095.59 337.76 1089.30 350.65M1086.79 337.76 1095.59 337.76M1107.54 337.76 1101.25 337.76 1100.63 343.28 1101.25 342.67 1103.14 342.05 1105.03 342.05 1106.92 342.67 1108.17 343.90 1108.80 345.74 1108.80 346.97 1108.17 348.81 1106.92 350.04 1105.03 350.65 1103.14 350.65 1101.25 350.04 1100.63 349.42 1100.00 348.19M1094.96 382.00 1094.34 380.77 1092.45 380.16 1091.19 380.16 1089.30 380.77 1088.05 382.61 1087.42 385.68 1087.42 388.75 1088.05 391.21 1089.30 392.44 1091.19 393.05 1091.82 393.05 1093.71 392.44 1094.96 391.21 1095.59 389.37 1095.59 388.75 1094.96 386.91 1093.71 385.68 1091.82 385.07 1091.19 385.07 1089.30 385.68 1088.05 386.91 1087.42 388.75M1103.77 380.16 1101.88 380.77 1100.63 382.61 1100.00 385.68 1100.00 387.52 1100.63 390.59 1101.88 392.44 1103.77 393.05 1105.03 393.05 1106.92 392.44 1108.17 390.59 1108.80 387.52 1108.80 385.68 1108.17 382.61 1106.92 380.77 1105.03 380.16 1103.77 380.16M1094.34 422.56 1088.05 422.56 1087.42 428.08 1088.05 427.47 1089.93 426.85 1091.82 426.85 1093.71 427.47 1094.96 428.70 1095.59 430.54 1095.59 431.77 1094.96 433.61 1093.71 434.84 1091.82 435.45 1089.93 435.45 1088.05 434.84 1087.42 434.22 1086.79 432.99M1103.77 422.56 1101.88 423.17 1100.63 425.01 1100.00 428.08 1100.00 429.92 1100.63 432.99 1101.88 434.84 1103.77 435.45 1105.03 435.45 1106.92 434.84 1108.17 432.99 1108.80 429.92 1108.80 428.08 1108.17 425.01 1106.92 423.17 1105.03 422.56 1103.77 422.56M1093.08 464.86 1086.79 473.45 1096.22 473.45M1093.08 464.86 1093.08 477.75M1103.77 464.86 1101.88 465.47 1100.63 467.31 1100.00 470.38 1100.00 472.22 1100.63 475.29 1101.88 477.14 1103.77 477.75 1105.03 477.75 1106.92 477.14 1108.17 475.29 1108.80 472.22 1108.80 470.38 1108.17 467.31 1106.92 465.47 1105.03 464.86 1103.77 464.86M1088.05 507.26 1094.96 507.26 1091.19 512.17 1093.08 512.17 1094.34 512.78 1094.96 513.40 1095.59 515.24 1095.59 516.47 1094.96 518.31 1093.71 519.54 1091.82 520.15 1089.93 520.15 1088.05 519.54 1087.42 518.92 1086.79 517.69M1103.77 507.26 1101.88 507.87 1100.63 509.71 1100.00 512.78 1100.00 514.62 1100.63 517.69 1101.88 519.54 1103.77 520.15 1105.03 520.15 1106.92 519.54 1108.17 517.69 1108.80 514.62 1108.80 512.78 1108.17 509.71 1106.92 507.87 1105.03 507.26 1103.77 507.26M1087.42 552.73 1087.42 552.11 1088.05 550.88 1088.67 550.27 1089.93 549.66 1092.45 549.66 1093.71 550.27 1094.34 550.88 1094.96 552.11 1094.96 553.34 1094.34 554.57 1093.08 556.41 1086.79 562.55 1095.59 562.55M1107.54 549.66 1101.25 549.66 1100.63 555.18 1101.25 554.57 1103.14 553.95 1105.03 553.95 1106.92 554.57 1108.17 555.80 1108.80 557.64 1108.80 558.87 1108.17 560.71 1106.92 561.94 1105.03 562.55 1103.14 562.55 1101.25 561.94 1100.63 561.32 1100.00 560.09M1087.42 595.13 1087.42 594.51 1088.05 593.28 1088.67 592.67 1089.93 592.06 1092.45 592.06 1093.71 592.67 1094.34 593.28 1094.96 594.51 1094.96 595.74 1094.34 596.97 1093.08 598.81 1086.79 604.95 1095.59 604.95M1103.77 592.06 1101.88 592.67 1100.63 594.51 1100.00 597.58 1100.00 599.42 1100.63 602.49 1101.88 604.34 1103.77 604.95 1105.03 604.95 1106.92 604.34 1108.17 602.49 1108.80 599.42 1108.80 597.58 1108.17 594.51 1106.92 592.67 1105.03 592.06 1103.77 592.06M1088.67 636.91 1089.93 636.30 1091.82 634.46 1091.82 647.35M1107.54 634.46 1101.25 634.46 1100.63 639.98 1101.25 639.37 1103.14 638.75 1105.03 638.75 1106.92 639.37 1108.17 640.60 1108.80 642.44 1108.80 643.67 1108.17 645.51 1106.92 646.74 1105.03 647.35 1103.14 647.35 1101.25 646.74 1100.63 646.12 1100.00 644.89M1088.67 679.31 1089.93 678.70 1091.82 676.86 1091.82 689.75M1100.63 679.93 1100.63 679.31 1101.25 678.08 1101.88 677.47 1103.14 676.86 1105.66 676.86 1106.92 677.47 1107.54 678.08 1108.17 679.31 1108.17 680.54 1107.54 681.77 1106.29 683.61 1100.00 689.75 1108.80 689.75M1114.46 688.52 1113.83 689.14 1114.46 689.75 1115.09 689.14 1114.46 688.52M1127.67 676.86 1121.38 676.86 1120.75 682.38 1121.38 681.77 1123.27 681.15 1125.16 681.15 1127.04 681.77 1128.30 683.00 1128.93 684.84 1128.93 686.07 1128.30 687.91 1127.04 689.14 1125.16 689.75 1123.27 689.75 1121.38 689.14 1120.75 688.52 1120.12 687.29M1095.59 719.16 1089.30 732.05M1086.79 719.16 1095.59 719.16M1088.05 761.56 1094.96 761.56 1091.19 766.47 1093.08 766.47 1094.34 767.08 1094.96 767.70 1095.59 769.54 1095.59 770.77 1094.96 772.61 1093.71 773.84 1091.82 774.45 1089.93 774.45 1088.05 773.84 1087.42 773.22 1086.79 771.99M1101.25 773.22 1100.63 773.84 1101.25 774.45 1101.88 773.84 1101.25 773.22M1114.46 761.56 1108.17 761.56 1107.54 767.08 1108.17 766.47 1110.06 765.85 1111.95 765.85 1113.83 766.47 1115.09 767.70 1115.72 769.54 1115.72 770.77 1115.09 772.61 1113.83 773.84 1111.95 774.45 1110.06 774.45 1108.17 773.84 1107.54 773.22 1106.92 771.99" stroke="#000" stroke-width="1.45" fill="none" stroke-linecap="round" stroke-linejoin="round"/>
<path d="M128.44 8.01 128.44 29.53M136.38 8.01 136.38 29.53M136.38 8.01 143.70 29.53M151.02 8.01 143.70 29.53M151.02 8.01 151.02 29.53M159.40 8.01 159.40 29.53M159.40 8.01 172.21 29.53M172.21 8.01 172.21 29.53M194.98 3.91 178.51 36.70M199.45 8.01 204.03 29.53M208.60 8.01 204.03 29.53M208.60 8.01 213.18 29.53M217.75 8.01 213.18 29.53M223.94 8.01 223.94 29.53M223.94 8.01 232.18 8.01 234.93 9.03 235.84 10.06 236.75 12.11 236.75 14.16 235.84 16.21 234.93 17.23 232.18 18.26 223.94 18.26M230.35 18.26 236.75 29.53M243.45 8.01 243.45 29.53M243.45 8.01 255.35 8.01M243.45 18.26 250.77 18.26M261.62 20.30 278.08 20.30M288.03 12.11 289.86 11.08 292.60 8.01 292.60 29.53M307.03 12.11 308.86 11.08 311.60 8.01 311.60 29.53M341.00 8.01 341.00 29.53M341.00 8.01 349.23 8.01 351.98 9.03 352.89 10.06 353.81 12.11 353.81 15.18 352.89 17.23 351.98 18.26 349.23 19.28 341.00 19.28M361.00 15.18 361.00 29.53M361.00 21.33 361.91 18.26 363.74 16.21 365.57 15.18 368.32 15.18M373.00 21.33 383.98 21.33 383.98 19.28 383.06 17.23 382.15 16.21 380.32 15.18 377.57 15.18 375.75 16.21 373.92 18.26 373.00 21.33 373.00 23.38 373.92 26.46 375.75 28.51 377.57 29.53 380.32 29.53 382.15 28.51 383.98 26.46M401.48 18.26 399.65 16.21 397.82 15.18 395.07 15.18 393.25 16.21 391.42 18.26 390.50 21.33 390.50 23.38 391.42 26.46 393.25 28.51 395.07 29.53 397.82 29.53 399.65 28.51 401.48 26.46M407.19 8.01 408.10 9.03 409.01 8.01 408.10 6.98 407.19 8.01M408.10 15.18 408.10 29.53M415.50 15.18 415.50 36.70M415.50 18.26 417.33 16.21 419.16 15.18 421.90 15.18 423.73 16.21 425.56 18.26 426.48 21.33 426.48 23.38 425.56 26.46 423.73 28.51 421.90 29.53 419.16 29.53 417.33 28.51 415.50 26.46M432.98 8.01 433.90 9.03 434.81 8.01 433.90 6.98 432.98 8.01M433.90 15.18 433.90 29.53M443.10 8.01 443.10 25.43 444.02 28.51 445.85 29.53 447.68 29.53M440.36 15.18 446.76 15.18M464.20 15.18 464.20 29.53M464.20 18.26 462.37 16.21 460.54 15.18 457.79 15.18 455.96 16.21 454.13 18.26 453.22 21.33 453.22 23.38 454.13 26.46 455.96 28.51 457.79 29.53 460.54 29.53 462.37 28.51 464.20 26.46M481.58 18.26 479.75 16.21 477.92 15.18 475.18 15.18 473.35 16.21 471.52 18.26 470.60 21.33 470.60 23.38 471.52 26.46 473.35 28.51 475.18 29.53 477.92 29.53 479.75 28.51 481.58 26.46M487.28 8.01 488.20 9.03 489.11 8.01 488.20 6.98 487.28 8.01M488.20 15.18 488.20 29.53M500.88 15.18 499.05 16.21 497.22 18.26 496.30 21.33 496.30 23.38 497.22 26.46 499.05 28.51 500.88 29.53 503.62 29.53 505.45 28.51 507.28 26.46 508.20 23.38 508.20 21.33 507.28 18.26 505.45 16.21 503.62 15.18 500.88 15.18M515.07 15.18 515.07 29.53M515.07 19.28 517.81 16.21 519.64 15.18 522.39 15.18 524.22 16.21 525.13 19.28 525.13 29.53M554.10 8.01 546.78 29.53M554.10 8.01 561.42 29.53M549.52 22.36 558.67 22.36M576.98 18.26 575.15 16.21 573.32 15.18 570.58 15.18 568.75 16.21 566.91 18.26 566.00 21.33 566.00 23.38 566.91 26.46 568.75 28.51 570.58 29.53 573.32 29.53 575.15 28.51 576.98 26.46M584.42 15.18 584.42 25.43 585.33 28.51 587.16 29.53 589.91 29.53 591.74 28.51 594.48 25.43M594.48 15.18 594.48 29.53M602.34 15.18 602.34 29.53M602.34 19.28 605.08 16.21 606.91 15.18 609.66 15.18 611.49 16.21 612.40 19.28 612.40 29.53M612.40 19.28 615.15 16.21 616.98 15.18 619.72 15.18 621.55 16.21 622.47 19.28 622.47 29.53M631.30 15.18 631.30 25.43 632.22 28.51 634.04 29.53 636.79 29.53 638.62 28.51 641.37 25.43M641.37 15.18 641.37 29.53M649.30 8.01 649.30 29.53M667.41 15.18 667.41 29.53M667.41 18.26 665.58 16.21 663.75 15.18 661.01 15.18 659.18 16.21 657.35 18.26 656.43 21.33 656.43 23.38 657.35 26.46 659.18 28.51 661.01 29.53 663.75 29.53 665.58 28.51 667.41 26.46M685.30 8.01 685.30 29.53M685.30 18.26 683.47 16.21 681.64 15.18 678.89 15.18 677.06 16.21 675.23 18.26 674.32 21.33 674.32 23.38 675.23 26.46 677.06 28.51 678.89 29.53 681.64 29.53 683.47 28.51 685.30 26.46M703.40 15.18 703.40 29.53M703.40 18.26 701.57 16.21 699.74 15.18 697.00 15.18 695.16 16.21 693.33 18.26 692.42 21.33 692.42 23.38 693.33 26.46 695.16 28.51 697.00 29.53 699.74 29.53 701.57 28.51 703.40 26.46M738.70 8.01 738.70 29.53M738.70 18.26 736.87 16.21 735.04 15.18 732.30 15.18 730.47 16.21 728.63 18.26 727.72 21.33 727.72 23.38 728.63 26.46 730.47 28.51 732.30 29.53 735.04 29.53 736.87 28.51 738.70 26.46M746.97 15.18 746.97 25.43 747.88 28.51 749.71 29.53 752.46 29.53 754.29 28.51 757.03 25.43M757.03 15.18 757.03 29.53M764.86 15.18 764.86 29.53M764.86 21.33 765.77 18.26 767.60 16.21 769.43 15.18 772.18 15.18M787.44 15.18 787.44 29.53M787.44 18.26 785.61 16.21 783.78 15.18 781.04 15.18 779.21 16.21 777.38 18.26 776.46 21.33 776.46 23.38 777.38 26.46 779.21 28.51 781.04 29.53 783.78 29.53 785.61 28.51 787.44 26.46M795.27 15.18 795.27 29.53M795.27 19.28 798.01 16.21 799.84 15.18 802.59 15.18 804.42 16.21 805.33 19.28 805.33 29.53M815.70 8.01 815.70 25.43 816.62 28.51 818.45 29.53 820.27 29.53M812.96 15.18 819.36 15.18M823.42 21.33 834.40 21.33 834.40 19.28 833.48 17.23 832.57 16.21 830.74 15.18 828.00 15.18 826.16 16.21 824.33 18.26 823.42 21.33 823.42 23.38 824.33 26.46 826.16 28.51 828.00 29.53 830.74 29.53 832.57 28.51 834.40 26.46M860.93 8.01 870.99 8.01 865.50 16.21 868.25 16.21 870.08 17.23 870.99 18.26 871.90 21.33 871.90 23.38 870.99 26.46 869.16 28.51 866.42 29.53 863.67 29.53 860.93 28.51 860.01 27.48 859.10 25.43M896.00 8.01 896.00 29.53M896.00 19.28 898.75 16.21 900.58 15.18 903.32 15.18 905.15 16.21 906.07 19.28 906.07 29.53M917.64 15.18 915.81 16.21 913.98 18.26 913.06 21.33 913.06 23.38 913.98 26.46 915.81 28.51 917.64 29.53 920.38 29.53 922.21 28.51 924.04 26.46 924.96 23.38 924.96 21.33 924.04 18.26 922.21 16.21 920.38 15.18 917.64 15.18M931.95 15.18 931.95 29.53M931.95 21.33 932.87 18.26 934.70 16.21 936.53 15.18 939.27 15.18M954.60 15.18 954.60 29.53M954.60 18.26 952.77 16.21 950.94 15.18 948.20 15.18 946.37 16.21 944.53 18.26 943.62 21.33 943.62 23.38 944.53 26.46 946.37 28.51 948.20 29.53 950.94 29.53 952.77 28.51 954.60 26.46M971.40 18.26 970.49 16.21 967.74 15.18 965.00 15.18 962.25 16.21 961.34 18.26 962.25 20.30 964.08 21.33 968.66 22.36 970.49 23.38 971.40 25.43 971.40 26.46 970.49 28.51 967.74 29.53 965.00 29.53 962.25 28.51 961.34 26.46M1001.41 3.91 999.58 5.96 997.75 9.03 995.92 13.13 995.00 18.26 995.00 22.36 995.92 27.48 997.75 31.58 999.58 34.66 1001.41 36.70M1008.30 15.18 1008.30 29.53M1008.30 19.28 1011.04 16.21 1012.88 15.18 1015.62 15.18 1017.45 16.21 1018.37 19.28 1018.37 29.53M1018.37 19.28 1021.11 16.21 1022.94 15.18 1025.68 15.18 1027.51 16.21 1028.43 19.28 1028.43 29.53M1038.27 15.18 1038.27 29.53M1038.27 19.28 1041.02 16.21 1042.85 15.18 1045.59 15.18 1047.42 16.21 1048.34 19.28 1048.34 29.53M1048.34 19.28 1051.08 16.21 1052.91 15.18 1055.66 15.18 1057.49 16.21 1058.40 19.28 1058.40 29.53M1065.29 3.91 1067.12 5.96 1068.95 9.03 1070.78 13.13 1071.70 18.26 1071.70 22.36 1070.78 27.48 1068.95 31.58 1067.12 34.66 1065.29 36.70M465.76 44.90 465.76 43.88 466.68 41.83 467.59 40.80 469.42 39.77 473.08 39.77 474.91 40.80 475.83 41.83 476.74 43.88 476.74 45.92 475.83 47.97 474.00 51.05 464.85 61.30 477.66 61.30M489.38 39.77 486.64 40.80 484.81 43.88 483.89 49.00 483.89 52.07 484.81 57.20 486.64 60.27 489.38 61.30 491.21 61.30 493.96 60.27 495.79 57.20 496.70 52.07 496.70 49.00 495.79 43.88 493.96 40.80 491.21 39.77 489.38 39.77M503.59 44.90 503.59 43.88 504.50 41.83 505.42 40.80 507.25 39.77 510.91 39.77 512.74 40.80 513.65 41.83 514.57 43.88 514.57 45.92 513.65 47.97 511.82 51.05 502.67 61.30 515.48 61.30M532.70 39.77 523.55 39.77 522.63 49.00 523.55 47.97 526.30 46.95 529.04 46.95 531.78 47.97 533.62 50.02 534.53 53.10 534.53 55.15 533.62 58.22 531.78 60.27 529.04 61.30 526.30 61.30 523.55 60.27 522.63 59.25 521.72 57.20M541.76 52.07 558.24 52.07M567.92 43.88 569.75 42.85 572.50 39.77 572.50 61.30M592.39 39.77 589.64 40.80 587.81 43.88 586.90 49.00 586.90 52.07 587.81 57.20 589.64 60.27 592.39 61.30 594.22 61.30 596.96 60.27 598.79 57.20 599.71 52.07 599.71 49.00 598.79 43.88 596.96 40.80 594.22 39.77 592.39 39.77M604.91 52.07 621.38 52.07M631.67 43.88 633.50 42.85 636.25 39.77 636.25 61.30M652.55 39.77 649.80 40.80 648.88 42.85 648.88 44.90 649.80 46.95 651.63 47.97 655.29 49.00 658.03 50.02 659.87 52.07 660.78 54.12 660.78 57.20 659.87 59.25 658.95 60.27 656.21 61.30 652.55 61.30 649.80 60.27 648.88 59.25 647.97 57.20 647.97 54.12 648.88 52.07 650.72 50.02 653.46 49.00 657.12 47.97 658.95 46.95 659.87 44.90 659.87 42.85 658.95 40.80 656.21 39.77 652.55 39.77M687.32 43.88 689.15 42.85 691.90 39.77 691.90 61.30M708.00 39.77 705.25 40.80 704.33 42.85 704.33 44.90 705.25 46.95 707.08 47.97 710.74 49.00 713.48 50.02 715.31 52.07 716.23 54.12 716.23 57.20 715.31 59.25 714.40 60.27 711.65 61.30 708.00 61.30 705.25 60.27 704.33 59.25 703.42 57.20 703.42 54.12 704.33 52.07 706.16 50.02 708.91 49.00 712.57 47.97 714.40 46.95 715.31 44.90 715.31 42.85 714.40 40.80 711.65 39.77 708.00 39.77M735.15 39.77 722.35 61.30M722.35 39.77 735.15 39.77M722.35 61.30 735.15 61.30" stroke="#000" stroke-width="1.35" fill="none" stroke-linecap="round" stroke-linejoin="round"/>
<path d="M330.50 860.70 330.50 875.97M337.48 865.79 337.48 875.97M337.48 868.70 339.83 866.52 341.40 865.79 343.76 865.79 345.33 866.52 346.11 868.70 346.11 875.97M360.94 867.97 360.16 866.52 357.80 865.79 355.45 865.79 353.09 866.52 352.31 867.97 353.09 869.43 354.66 870.15 358.59 870.88 360.16 871.61 360.94 873.06 360.94 873.79 360.16 875.24 357.80 875.97 355.45 875.97 353.09 875.24 352.31 873.79M367.92 860.70 367.92 873.06 368.71 875.24 370.28 875.97 371.85 875.97M365.57 865.79 371.06 865.79M376.47 860.70 377.25 861.43 378.04 860.70 377.25 859.98 376.47 860.70M377.25 865.79 377.25 875.97M385.02 860.70 385.02 873.06 385.80 875.24 387.37 875.97 388.94 875.97M382.66 865.79 388.16 865.79M394.35 865.79 394.35 873.06 395.14 875.24 396.71 875.97 399.06 875.97 400.63 875.24 402.99 873.06M402.99 865.79 402.99 875.97M410.75 860.70 410.75 873.06 411.54 875.24 413.11 875.97 414.68 875.97M408.40 865.79 413.89 865.79M423.22 865.79 421.65 866.52 420.08 867.97 419.30 870.15 419.30 871.61 420.08 873.79 421.65 875.24 423.22 875.97 425.58 875.97 427.15 875.24 428.72 873.79 429.50 871.61 429.50 870.15 428.72 867.97 427.15 866.52 425.58 865.79 423.22 865.79M448.96 860.70 448.96 875.97M448.96 860.70 455.24 875.97M461.52 860.70 455.24 875.97M461.52 860.70 461.52 875.97M467.71 870.15 477.13 870.15 477.13 868.70 476.35 867.25 475.56 866.52 473.99 865.79 471.64 865.79 470.07 866.52 468.50 867.97 467.71 870.15 467.71 871.61 468.50 873.79 470.07 875.24 471.64 875.97 473.99 875.97 475.56 875.24 477.13 873.79M484.11 860.70 484.11 873.06 484.89 875.24 486.46 875.97 488.03 875.97M481.75 865.79 487.25 865.79M492.66 870.15 502.08 870.15 502.08 868.70 501.29 867.25 500.51 866.52 498.94 865.79 496.58 865.79 495.01 866.52 493.44 867.97 492.66 870.15 492.66 871.61 493.44 873.79 495.01 875.24 496.58 875.97 498.94 875.97 500.51 875.24 502.08 873.79M511.41 865.79 509.84 866.52 508.27 867.97 507.49 870.15 507.49 871.61 508.27 873.79 509.84 875.24 511.41 875.97 513.77 875.97 515.34 875.24 516.91 873.79 517.69 871.61 517.69 870.15 516.91 867.97 515.34 866.52 513.77 865.79 511.41 865.79M523.88 865.79 523.88 875.97M523.88 870.15 524.67 867.97 526.24 866.52 527.81 865.79 530.16 865.79M537.93 865.79 536.36 866.52 534.79 867.97 534.00 870.15 534.00 871.61 534.79 873.79 536.36 875.24 537.93 875.97 540.28 875.97 541.85 875.24 543.42 873.79 544.21 871.61 544.21 870.15 543.42 867.97 541.85 866.52 540.28 865.79 537.93 865.79M550.40 860.70 550.40 875.97M560.52 865.79 558.95 866.52 557.38 867.97 556.60 870.15 556.60 871.61 557.38 873.79 558.95 875.24 560.52 875.97 562.88 875.97 564.45 875.24 566.02 873.79 566.80 871.61 566.80 870.15 566.02 867.97 564.45 866.52 562.88 865.79 560.52 865.79M581.63 865.79 581.63 877.42 580.84 879.61 580.06 880.33 578.49 881.06 576.13 881.06 574.56 880.33M581.63 867.97 580.06 866.52 578.49 865.79 576.13 865.79 574.56 866.52 572.99 867.97 572.21 870.15 572.21 871.61 572.99 873.79 574.56 875.24 576.13 875.97 578.49 875.97 580.06 875.24 581.63 873.79M587.82 860.70 588.61 861.43 589.39 860.70 588.61 859.98 587.82 860.70M588.61 865.79 588.61 875.97M604.22 867.97 602.65 866.52 601.08 865.79 598.73 865.79 597.16 866.52 595.59 867.97 594.80 870.15 594.80 871.61 595.59 873.79 597.16 875.24 598.73 875.97 601.08 875.97 602.65 875.24 604.22 873.79M613.56 865.79 611.99 866.52 610.42 867.97 609.63 870.15 609.63 871.61 610.42 873.79 611.99 875.24 613.56 875.97 615.91 875.97 617.48 875.24 619.05 873.79 619.84 871.61 619.84 870.15 619.05 867.97 617.48 866.52 615.91 865.79 613.56 865.79M639.29 860.70 639.29 875.97M639.29 860.70 650.28 875.97M650.28 860.70 650.28 875.97M665.89 865.79 665.89 875.97M665.89 867.97 664.32 866.52 662.75 865.79 660.40 865.79 658.83 866.52 657.26 867.97 656.47 870.15 656.47 871.61 657.26 873.79 658.83 875.24 660.40 875.97 662.75 875.97 664.32 875.24 665.89 873.79M681.50 867.97 679.93 866.52 678.36 865.79 676.01 865.79 674.44 866.52 672.87 867.97 672.08 870.15 672.08 871.61 672.87 873.79 674.44 875.24 676.01 875.97 678.36 875.97 679.93 875.24 681.50 873.79M686.91 860.70 687.70 861.43 688.48 860.70 687.70 859.98 686.91 860.70M687.70 865.79 687.70 875.97M697.82 865.79 696.25 866.52 694.68 867.97 693.89 870.15 693.89 871.61 694.68 873.79 696.25 875.24 697.82 875.97 700.17 875.97 701.74 875.24 703.31 873.79 704.10 871.61 704.10 870.15 703.31 867.97 701.74 866.52 700.17 865.79 697.82 865.79M710.29 865.79 710.29 875.97M710.29 868.70 712.65 866.52 714.22 865.79 716.57 865.79 718.14 866.52 718.93 868.70 718.93 875.97M734.54 865.79 734.54 875.97M734.54 867.97 732.97 866.52 731.40 865.79 729.04 865.79 727.47 866.52 725.90 867.97 725.12 870.15 725.12 871.61 725.90 873.79 727.47 875.24 729.04 875.97 731.40 875.97 732.97 875.24 734.54 873.79M741.52 860.70 741.52 875.97M772.75 864.34 771.96 862.88 770.39 861.43 768.82 860.70 765.68 860.70 764.11 861.43 762.54 862.88 761.76 864.34 760.97 866.52 760.97 870.15 761.76 872.34 762.54 873.79 764.11 875.24 765.68 875.97 768.82 875.97 770.39 875.24 771.96 873.79 772.75 872.34M782.08 865.79 780.51 866.52 778.94 867.97 778.15 870.15 778.15 871.61 778.94 873.79 780.51 875.24 782.08 875.97 784.43 875.97 786.00 875.24 787.57 873.79 788.36 871.61 788.36 870.15 787.57 867.97 786.00 866.52 784.43 865.79 782.08 865.79M802.40 867.97 801.62 866.52 799.26 865.79 796.91 865.79 794.55 866.52 793.77 867.97 794.55 869.43 796.12 870.15 800.05 870.88 801.62 871.61 802.40 873.06 802.40 873.79 801.62 875.24 799.26 875.97 796.91 875.97 794.55 875.24 793.77 873.79M809.38 860.70 809.38 873.06 810.17 875.24 811.74 875.97 813.31 875.97M807.03 865.79 812.52 865.79M827.35 865.79 827.35 875.97M827.35 867.97 825.78 866.52 824.21 865.79 821.86 865.79 820.29 866.52 818.72 867.97 817.93 870.15 817.93 871.61 818.72 873.79 820.29 875.24 821.86 875.97 824.21 875.97 825.78 875.24 827.35 873.79M847.59 860.70 847.59 875.97M847.59 860.70 854.65 860.70 857.01 861.43 857.79 862.16 858.58 863.61 858.58 865.07 857.79 866.52 857.01 867.25 854.65 867.97 847.59 867.97M853.08 867.97 858.58 875.97M863.99 860.70 864.77 861.43 865.56 860.70 864.77 859.98 863.99 860.70M864.77 865.79 864.77 875.97M880.38 867.97 878.81 866.52 877.24 865.79 874.89 865.79 873.32 866.52 871.75 867.97 870.96 870.15 870.96 871.61 871.75 873.79 873.32 875.24 874.89 875.97 877.24 875.97 878.81 875.24 880.38 873.79M895.21 865.79 895.21 875.97M895.21 867.97 893.64 866.52 892.07 865.79 889.72 865.79 888.15 866.52 886.58 867.97 885.79 870.15 885.79 871.61 886.58 873.79 888.15 875.24 889.72 875.97 892.07 875.97 893.64 875.24 895.21 873.79" stroke="#000" stroke-width="1.25" fill="none" stroke-linecap="round" stroke-linejoin="round"/>
</svg>
</body></html>
